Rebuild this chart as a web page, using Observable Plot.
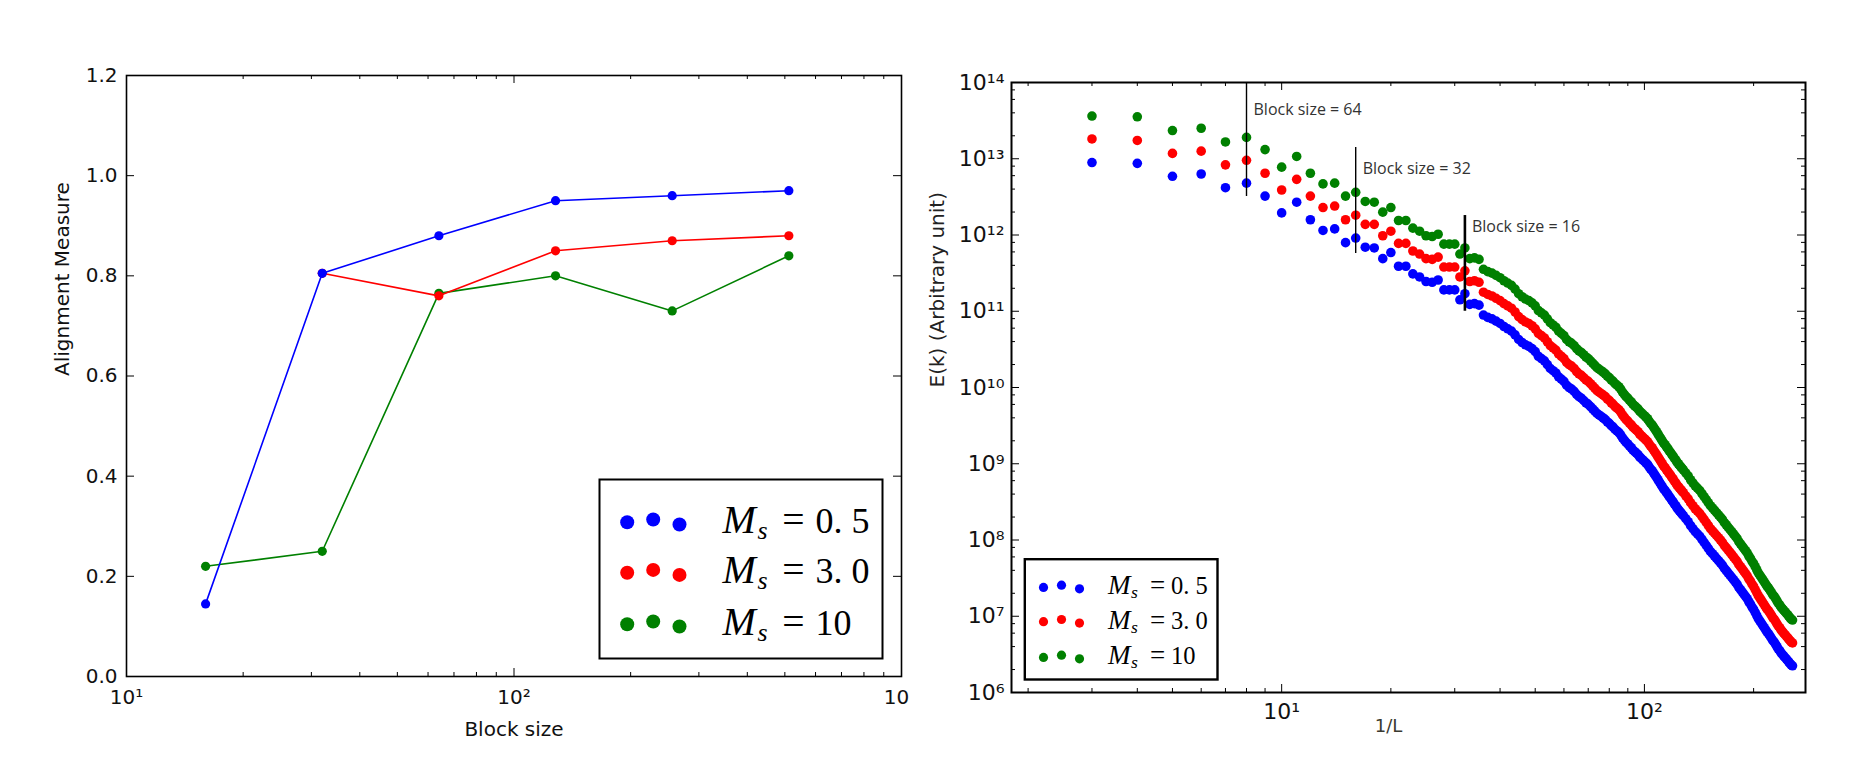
<!DOCTYPE html>
<html>
<head>
<meta charset="utf-8">
<script src="https://cdn.jsdelivr.net/npm/d3@7"></script>
<script src="https://cdn.jsdelivr.net/npm/@observablehq/plot@0.6"></script>
<style>
  html, body { margin: 0; padding: 0; background: #ffffff; }
  #wrap { position: relative; width: 1871px; height: 761px; overflow: hidden; background: #fff; }
  #left { position: absolute; left: 0; top: 0; }
  #right { position: absolute; left: 915px; top: 0; }
  svg { overflow: visible; }
</style>
</head>
<body>
<div id="wrap"><div id="left"></div><div id="right"></div></div>
<script>
// ---------------- LEFT PANEL DATA ----------------
const blockSizes = [16, 32, 64, 128, 256, 512];
const alignMs05 = [0.145, 0.805, 0.88, 0.95, 0.96, 0.97];
const blockSizesMs3 = [32, 64, 128, 256, 512];
const alignMs3 = [0.805, 0.76, 0.85, 0.87, 0.88];
const alignMs10 = [0.22, 0.25, 0.765, 0.80, 0.73, 0.84];
const leftXTicks = [10, 100, 1000];
const leftXTickLabels = ["10¹", "10²", "10"];
const leftXMinor = [20, 30, 40, 50, 60, 70, 80, 90, 200, 300, 400, 500, 600, 700, 800, 900];
const leftYTicks = [0, 0.2, 0.4, 0.6, 0.8, 1.0, 1.2];

// ---------------- RIGHT PANEL DATA ----------------
const invL = [3,4,5,6,7,8,9,10,11,12,13,14,15,16,17,18,19,20,21,22,23,24,25,26,27,28,29,30,31,32,33,34,35,36,37,38,39,40,41,42,43,44,45,46,47,48,49,50,51,52,53,54,55,56,57,58,59,60,61,62,63,64,
  65,66,67,68,69,70,71,72,73,74,75,76,77,78,79,80,81,82,83,84,85,86,87,88,89,90,91,92,93,94,95,96,97,98,99,100,101,102,103,104,105,106,107,108,109,110,111,112,113,114,115,116,117,118,119,120,121,122,123,124,125,126,127,128,
  130,132,134,136,138,140,142,144,146,148,150,152,154,156,158,160,162,164,166,168,170,172,174,176,178,180,182,184,186,188,190,192,194,196,198,200,202,204,206,208,210,212,214,216,218,220,222,224,226,228,230,232,234,236,238,240,242,244,246,248,250,252,254,256];
// log10 of E(k)
const log10E_Ms05 = [12.95,12.94,12.77,12.80,12.62,12.68,12.51,12.29,12.43,12.20,12.06,12.08,11.90,11.96,11.84,11.83,11.69,11.77,11.59,
  11.59,11.49,11.45,11.39,11.38,11.41,11.28,11.28,11.28,11.15,11.23,11.09,11.10,11.08,10.95,10.92,10.90,10.87,10.84,10.80,10.77,10.74,10.69,10.63,10.59,10.56,10.54,10.51,10.47,10.41,10.38,10.35,10.30,10.25,10.22,10.19,10.14,10.11,10.08,10.03,10.00,9.98,9.95,
  9.91,9.88,9.86,9.83,9.80,9.78,9.75,9.72,9.69,9.66,9.64,9.62,9.60,9.58,9.55,9.53,9.50,9.48,9.45,9.43,9.41,9.38,9.34,9.31,9.28,9.26,9.23,9.21,9.18,9.16,9.14,9.12,9.09,9.07,9.05,9.03,9.01,8.99,8.96,8.93,8.91,8.88,8.85,8.82,8.79,8.76,8.73,8.70,8.67,8.65,8.62,8.60,8.57,8.55,8.52,8.50,8.47,8.45,8.42,8.40,8.38,8.36,8.34,8.32,
  8.28,8.24,8.19,8.15,8.11,8.08,8.05,8.01,7.97,7.93,7.89,7.85,7.82,7.79,7.76,7.73,7.70,7.67,7.63,7.60,7.57,7.54,7.51,7.48,7.45,7.42,7.38,7.35,7.32,7.29,7.26,7.23,7.19,7.16,7.12,7.09,7.05,7.01,6.97,6.94,6.91,6.88,6.85,6.82,6.79,6.77,6.74,6.71,6.68,6.66,6.63,6.60,6.57,6.55,6.52,6.50,6.48,6.46,6.44,6.42,6.40,6.38,6.36,6.35];
const log10E_Ms3 = [13.26,13.24,13.07,13.10,12.92,12.98,12.81,12.59,12.73,12.51,12.36,12.38,12.20,12.26,12.14,12.14,11.99,12.05,11.89,
  11.89,11.79,11.75,11.69,11.68,11.71,11.58,11.58,11.58,11.45,11.53,11.39,11.40,11.38,11.25,11.22,11.20,11.17,11.14,11.10,11.07,11.04,10.99,10.93,10.89,10.86,10.84,10.81,10.77,10.71,10.68,10.65,10.60,10.55,10.52,10.49,10.44,10.41,10.38,10.33,10.30,10.28,10.25,
  10.21,10.18,10.16,10.13,10.10,10.08,10.05,10.02,9.99,9.96,9.94,9.92,9.90,9.88,9.85,9.83,9.80,9.78,9.75,9.73,9.71,9.68,9.64,9.61,9.58,9.56,9.53,9.51,9.48,9.46,9.44,9.42,9.39,9.37,9.35,9.33,9.31,9.29,9.26,9.23,9.21,9.18,9.15,9.12,9.09,9.06,9.03,9.00,8.97,8.95,8.92,8.90,8.87,8.85,8.82,8.80,8.77,8.75,8.72,8.70,8.68,8.66,8.64,8.62,
  8.58,8.54,8.49,8.45,8.41,8.38,8.35,8.31,8.27,8.23,8.19,8.15,8.12,8.09,8.06,8.03,8.00,7.97,7.93,7.90,7.87,7.84,7.81,7.78,7.75,7.72,7.68,7.65,7.62,7.59,7.56,7.53,7.49,7.46,7.42,7.39,7.35,7.31,7.27,7.24,7.21,7.18,7.15,7.12,7.09,7.07,7.04,7.01,6.98,6.96,6.93,6.90,6.87,6.85,6.82,6.80,6.78,6.76,6.74,6.72,6.70,6.68,6.66,6.65];
const log10E_Ms10 = [13.56,13.55,13.37,13.40,13.22,13.28,13.12,12.89,13.03,12.81,12.67,12.68,12.51,12.56,12.44,12.43,12.30,12.36,12.19,
  12.19,12.09,12.05,11.99,11.98,12.01,11.88,11.88,11.88,11.75,11.83,11.69,11.70,11.68,11.55,11.52,11.50,11.47,11.44,11.40,11.37,11.34,11.29,11.23,11.19,11.16,11.14,11.11,11.07,11.01,10.98,10.95,10.90,10.85,10.82,10.79,10.74,10.71,10.68,10.63,10.60,10.58,10.55,
  10.51,10.48,10.46,10.43,10.40,10.38,10.35,10.32,10.29,10.26,10.24,10.22,10.20,10.18,10.15,10.13,10.10,10.08,10.05,10.03,10.01,9.98,9.94,9.91,9.88,9.86,9.83,9.81,9.78,9.76,9.74,9.72,9.69,9.67,9.65,9.63,9.61,9.59,9.56,9.53,9.51,9.48,9.45,9.42,9.39,9.36,9.33,9.30,9.27,9.25,9.22,9.20,9.17,9.15,9.12,9.10,9.07,9.05,9.02,9.00,8.98,8.96,8.94,8.92,
  8.88,8.84,8.79,8.75,8.71,8.68,8.65,8.61,8.57,8.53,8.49,8.45,8.42,8.39,8.36,8.33,8.30,8.27,8.23,8.20,8.17,8.14,8.11,8.08,8.05,8.02,7.98,7.95,7.92,7.89,7.86,7.83,7.79,7.76,7.72,7.69,7.65,7.61,7.57,7.54,7.51,7.48,7.45,7.42,7.39,7.37,7.34,7.31,7.28,7.26,7.23,7.20,7.17,7.15,7.12,7.10,7.08,7.06,7.04,7.02,7.00,6.98,6.96,6.95];
const rightXMajor = [10, 100];
const rightXTickLabels = ["10¹", "10²"];
const rightXMinor = [2, 3, 4, 5, 6, 7, 8, 9, 20, 30, 40, 50, 60, 70, 80, 90, 200];
const rightYMajor = [1e6, 1e7, 1e8, 1e9, 1e10, 1e11, 1e12, 1e13, 1e14];
const rightYTickLabels = ["10⁶", "10⁷", "10⁸", "10⁹", "10¹⁰", "10¹¹", "10¹²", "10¹³", "10¹⁴"];
const rightYMinorMantissas = [2, 4, 6, 8];
// annotations (vertical markers)
const blockInvL = [8, 16, 32];
const blockLabels = ["Block size = 64", "Block size = 32", "Block size = 16"];
const blockTop = [1e14, 1.4e13, 1.8e12];
const blockBottom = [3.2e12, 5.7e11, 1.0e11];
const blockTextY = [3.8e13, 6.4e12, 1.1e12];

// legend
const seriesLabels = ["0. 5", "3. 0", "10"];
const seriesColors = ["#0000ff", "#ff0000", "#008000"];

// ---------------- HELPERS ----------------
const sans = "'DejaVu Sans', sans-serif";
const serif = "'Liberation Serif', 'DejaVu Serif', serif";
const toRows = (xs, ys) => xs.map((x, i) => ({x, y: ys[i]}));
const legendRows = seriesLabels.map((label, i) => ({label, color: seriesColors[i]}));

function legendMarks(cfg) {
  return legendRows.flatMap((row, i) => {
    const base = cfg.rowDy[i];
    const common = {frameAnchor: cfg.anchor, lineAnchor: "bottom", fill: "black", fontFamily: serif};
    return [
      ...cfg.dotDx.map((dx, j) => Plot.dot([row], {frameAnchor: cfg.anchor, dx, dy: base + cfg.dotDy[j], r: cfg.r, fill: d => d.color})),
      Plot.text([row], {...common, text: () => "M", dx: cfg.mDx, dy: base, textAnchor: "start", fontStyle: "italic", fontSize: cfg.mFs}),
      Plot.text([row], {...common, text: () => "s", dx: cfg.sDx, dy: base + cfg.sDy, textAnchor: "start", fontStyle: "italic", fontSize: cfg.fs * 0.72}),
      Plot.text([row], {...common, text: () => "=", dx: cfg.eqDx, dy: base, textAnchor: "middle", fontSize: cfg.fs * 1.1}),
      Plot.text([row], {...common, text: d => d.label, dx: cfg.numDx, dy: base, textAnchor: "start", fontSize: cfg.fs})
    ];
  });
}

// ---------------- LEFT PANEL ----------------
const LW = 915, LH = 761, LmT = 75, LmR = 14, LmB = 85, LmL = 126;
const LpW = LW - LmL - LmR, LpH = LH - LmT - LmB;
const sMs05 = toRows(blockSizes, alignMs05);
const sMs3 = toRows(blockSizesMs3, alignMs3);
const sMs10 = toRows(blockSizes, alignMs10);

const leftPlot = Plot.plot({
  width: LW, height: LH,
  marginTop: LmT, marginRight: LmR, marginBottom: LmB, marginLeft: LmL,
  x: {type: "log", domain: [10, 1000], axis: null},
  y: {domain: [0, 1.2], axis: null},
  style: {fontFamily: sans, fontSize: "20px", background: "transparent", overflow: "visible", color: "#111"},
  marks: [
    Plot.ruleX(leftXTicks, {x: d => d, insetTop: LpH - 8, stroke: "black"}),
    Plot.ruleX(leftXTicks, {x: d => d, insetBottom: LpH - 8, stroke: "black"}),
    Plot.ruleX(leftXMinor, {x: d => d, insetTop: LpH - 4, stroke: "black"}),
    Plot.ruleX(leftXMinor, {x: d => d, insetBottom: LpH - 4, stroke: "black"}),
    Plot.ruleY(leftYTicks, {y: d => d, insetRight: LpW - 8, stroke: "black"}),
    Plot.ruleY(leftYTicks, {y: d => d, insetLeft: LpW - 8, stroke: "black"}),
    Plot.line(sMs10, {x: "x", y: "y", stroke: seriesColors[2], strokeWidth: 1.6}),
    Plot.dot(sMs10, {x: "x", y: "y", r: 4.6, fill: seriesColors[2]}),
    Plot.line(sMs3, {x: "x", y: "y", stroke: seriesColors[1], strokeWidth: 1.6}),
    Plot.dot(sMs3, {x: "x", y: "y", r: 4.6, fill: seriesColors[1]}),
    Plot.line(sMs05, {x: "x", y: "y", stroke: seriesColors[0], strokeWidth: 1.6}),
    Plot.dot(sMs05, {x: "x", y: "y", r: 4.6, fill: seriesColors[0]}),
    Plot.frame({stroke: "black", strokeWidth: 1.6}),
    // legend box
    Plot.frame({fill: "white", stroke: "black", strokeWidth: 2, insetLeft: 473, insetRight: 19, insetTop: 404, insetBottom: 18}),
    ...legendMarks({anchor: "bottom-right", rowDy: [-143.7, -93.3, -41.7], dotDx: [-274.3, -248.3, -222], dotDy: [-10.5, -13.3, -8.3], r: 7,
      mDx: -179, mFs: 40, sDx: -144, sDy: 6, eqDx: -108, numDx: -86, fs: 36}),
    // tick labels
    Plot.text(leftYTicks, {y: d => d, text: d => d.toFixed(1), frameAnchor: "left", textAnchor: "end", dx: -9, fontSize: 20, fill: "#111"}),
    Plot.text(leftXTicks.slice(0, 2), {x: d => d, text: (d, i) => leftXTickLabels[i], frameAnchor: "bottom", lineAnchor: "bottom", dy: 27, fontSize: 20, fill: "#111"}),
    Plot.text(leftXTicks.slice(2), {x: d => d, text: () => leftXTickLabels[2], frameAnchor: "bottom", lineAnchor: "bottom", dy: 27, dx: -5, fontSize: 20, fill: "#111"}),
    // axis labels
    Plot.text(["Block size"], {text: d => d, frameAnchor: "bottom", lineAnchor: "bottom", dy: 59, fontSize: 20, fill: "#111"}),
    Plot.text(["Alignment Measure"], {text: d => d, frameAnchor: "left", rotate: -90, dx: -63.5, fontSize: 20, fill: "#111"})
  ]
});
document.getElementById("left").appendChild(leftPlot);

// ---------------- RIGHT PANEL ----------------
const RW = 956, RH = 761, RmT = 82, RmR = 66, RmB = 69, RmL = 96;
const RpW = RW - RmL - RmR, RpH = RH - RmT - RmB;
const specRows = (vals) => invL.map((k, i) => ({k, E: Math.pow(10, vals[i])}));
const sE05 = specRows(log10E_Ms05), sE3 = specRows(log10E_Ms3), sE10 = specRows(log10E_Ms10);
const rightYMinor = rightYMajor.slice(0, -1).flatMap(p => rightYMinorMantissas.map(m => m * p));
const blocks = blockInvL.map((x, i) => ({x, label: blockLabels[i], top: blockTop[i], bottom: blockBottom[i], ty: blockTextY[i]}));

const rightPlot = Plot.plot({
  width: RW, height: RH,
  marginTop: RmT, marginRight: RmR, marginBottom: RmB, marginLeft: RmL,
  x: {type: "log", domain: [1.8, 278], axis: null},
  y: {type: "log", domain: [1e6, 1e14], axis: null},
  style: {fontFamily: sans, fontSize: "20px", background: "transparent", overflow: "visible", color: "#111"},
  marks: [
    Plot.ruleX(rightXMajor, {x: d => d, insetTop: RpH - 8, stroke: "black"}),
    Plot.ruleX(rightXMajor, {x: d => d, insetBottom: RpH - 8, stroke: "black"}),
    Plot.ruleX(rightXMinor, {x: d => d, insetTop: RpH - 4, stroke: "black"}),
    Plot.ruleX(rightXMinor, {x: d => d, insetBottom: RpH - 4, stroke: "black"}),
    Plot.ruleY(rightYMajor, {y: d => d, insetRight: RpW - 8, stroke: "black"}),
    Plot.ruleY(rightYMajor, {y: d => d, insetLeft: RpW - 8, stroke: "black"}),
    Plot.ruleY(rightYMinor, {y: d => d, insetRight: RpW - 4, stroke: "black"}),
    Plot.ruleY(rightYMinor, {y: d => d, insetLeft: RpW - 4, stroke: "black"}),
    Plot.dot(sE05, {x: "k", y: "E", r: 4.8, fill: seriesColors[0]}),
    Plot.dot(sE3, {x: "k", y: "E", r: 4.8, fill: seriesColors[1]}),
    Plot.dot(sE10, {x: "k", y: "E", r: 4.8, fill: seriesColors[2]}),
    Plot.ruleX(blocks, {filter: (d, i) => i < 2, x: "x", y1: "top", y2: "bottom", stroke: "black", strokeWidth: 1.4}),
    Plot.ruleX(blocks, {filter: (d, i) => i === 2, x: "x", y1: "top", y2: "bottom", stroke: "black", strokeWidth: 2.6}),
    Plot.text(blocks, {x: "x", y: "ty", text: "label", textAnchor: "start", lineAnchor: "bottom", dx: 7, fontFamily: "'Open Sans', 'Noto Sans', sans-serif", fontSize: 16, fill: "#333"}),
    Plot.frame({stroke: "black", strokeWidth: 2}),
    // legend
    Plot.frame({fill: "white", stroke: "black", strokeWidth: 2.4, insetLeft: 13.3, insetRight: 588, insetTop: 476.7, insetBottom: 13}),
    ...legendMarks({anchor: "bottom-left", rowDy: [-98.3, -64, -28.3], dotDx: [32, 50, 68], dotDy: [-6.8, -9, -5.4], r: 4.6,
      mDx: 96.5, mFs: 27, sDx: 119.5, sDy: 4, eqDx: 146, numDx: 159.5, fs: 24.5}),
    // tick labels
    Plot.text(rightYMajor, {y: d => d, text: (d, i) => rightYTickLabels[i], frameAnchor: "left", textAnchor: "end", dx: -7, fontSize: 22, fill: "#111"}),
    Plot.text(rightXMajor, {x: d => d, text: (d, i) => rightXTickLabels[i], frameAnchor: "bottom", lineAnchor: "bottom", dy: 26, fontSize: 22, fill: "#111"}),
    // axis labels
    Plot.text(["1/L"], {text: d => d, frameAnchor: "bottom", lineAnchor: "bottom", dx: -20, dy: 39.5, fontSize: 18, fill: "#3a3a30"}),
    Plot.text(["E(k) (Arbitrary unit)"], {text: d => d, frameAnchor: "left", rotate: -90, dx: -74, fontSize: 20, fill: "#222"})
  ]
});
document.getElementById("right").appendChild(rightPlot);
</script>
</body>
</html>
